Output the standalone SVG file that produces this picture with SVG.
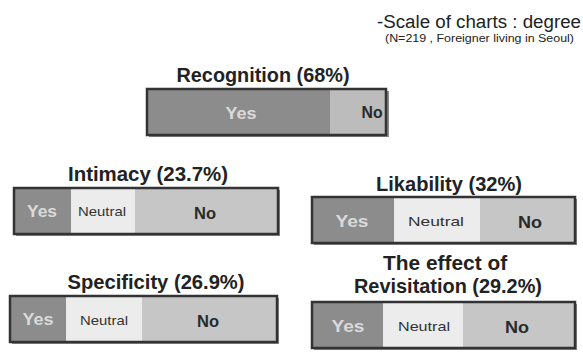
<svg xmlns="http://www.w3.org/2000/svg" width="583" height="354" viewBox="0 0 583 354">
  <style>
    .title { font-family: "Liberation Sans", Arial, sans-serif; font-weight: bold; font-size: 21px; fill: #222; text-anchor: middle; }
    .note { font-family: "Liberation Sans", Arial, sans-serif; fill: #222; text-anchor: end; }
    .yes { fill: #8c8c8c; }
    .neutral { fill: #ececec; }
    .no { fill: #c6c6c6; }
    .frame { fill: none; stroke: #333; stroke-width: 2.5; }
    .shadow { fill: #8a8a8a; }
    .lbl { font-family: "Liberation Sans", Arial, sans-serif; text-anchor: middle; }
    .lblYes { font-weight: bold; font-size: 17px; fill: #dadada; }
    .lblNeu { font-size: 13px; fill: #333; }
    .lblNo { font-weight: bold; font-size: 16px; fill: #2a2a2a; }
  </style>
  <rect width="583" height="354" fill="#ffffff"/>

  <!-- scale note -->
  <g id="scale-note">
    <text class="note" x="581" y="28" font-size="18" textLength="204" lengthAdjust="spacingAndGlyphs">-Scale of charts : degree</text>
    <text class="note" x="574" y="42" font-size="10" textLength="189" lengthAdjust="spacingAndGlyphs">(N=219 , Foreigner living in Seoul)</text>
  </g>

  <!-- Recognition -->
  <g id="recognition">
    <text class="title" x="263" y="82" textLength="173" lengthAdjust="spacingAndGlyphs">Recognition (68%)</text>
    <rect class="shadow" x="149" y="91" width="240" height="46"/>
    <rect class="yes" x="147" y="89" width="183" height="46"/>
    <rect x="330" y="89" width="56" height="46" fill="#bcbcbc"/>
    <rect class="frame" x="147" y="89" width="239" height="46"/>
    <text class="lbl lblYes" x="241" y="119" font-size="19" textLength="31" lengthAdjust="spacingAndGlyphs">Yes</text>
    <text class="lbl lblNo" x="372" y="118" textLength="21" lengthAdjust="spacingAndGlyphs">No</text>
  </g>

  <!-- Intimacy -->
  <g id="intimacy">
    <text class="title" x="148" y="181" textLength="160" lengthAdjust="spacingAndGlyphs">Intimacy (23.7%)</text>
    <rect class="shadow" x="16" y="190" width="264" height="46"/>
    <rect class="yes" x="14" y="188" width="57" height="46"/>
    <rect class="neutral" x="71" y="188" width="64" height="46"/>
    <rect class="no" x="135" y="188" width="143" height="46"/>
    <rect class="frame" x="14" y="188" width="264" height="46"/>
    <text class="lbl lblYes" x="42" y="217" textLength="30" lengthAdjust="spacingAndGlyphs">Yes</text>
    <text class="lbl lblNeu" x="102" y="216" textLength="48" lengthAdjust="spacingAndGlyphs">Neutral</text>
    <text class="lbl lblNo" x="205" y="219" textLength="22" lengthAdjust="spacingAndGlyphs">No</text>
  </g>

  <!-- Likability -->
  <g id="likability">
    <text class="title" x="449" y="191" textLength="146" lengthAdjust="spacingAndGlyphs">Likability (32%)</text>
    <rect class="shadow" x="314" y="199" width="263" height="46"/>
    <rect class="yes" x="312" y="197" width="82" height="46"/>
    <rect class="neutral" x="394" y="197" width="86" height="46"/>
    <rect class="no" x="480" y="197" width="95" height="46"/>
    <rect class="frame" x="312" y="197" width="263" height="46"/>
    <text class="lbl lblYes" x="352" y="227" font-size="19" textLength="33" lengthAdjust="spacingAndGlyphs">Yes</text>
    <text class="lbl lblNeu" x="436" y="226" font-size="15" textLength="56" lengthAdjust="spacingAndGlyphs">Neutral</text>
    <text class="lbl lblNo" x="530" y="228" font-size="17" textLength="24" lengthAdjust="spacingAndGlyphs">No</text>
  </g>

  <!-- Specificity -->
  <g id="specificity">
    <text class="title" x="156" y="289" textLength="177" lengthAdjust="spacingAndGlyphs">Specificity (26.9%)</text>
    <rect class="shadow" x="12" y="298" width="267" height="46"/>
    <rect class="yes" x="10" y="296" width="56" height="46"/>
    <rect class="neutral" x="66" y="296" width="76" height="46"/>
    <rect class="no" x="142" y="296" width="135" height="46"/>
    <rect class="frame" x="10" y="296" width="267" height="46"/>
    <text class="lbl lblYes" x="38" y="325" textLength="31" lengthAdjust="spacingAndGlyphs">Yes</text>
    <text class="lbl lblNeu" x="104" y="325" textLength="48" lengthAdjust="spacingAndGlyphs">Neutral</text>
    <text class="lbl lblNo" x="208" y="327" textLength="22" lengthAdjust="spacingAndGlyphs">No</text>
  </g>

  <!-- Revisitation: two-line title -->
  <g id="revisitation">
    <text class="title" font-size="20">
      <tspan x="448" y="270" textLength="124" lengthAdjust="spacingAndGlyphs">The effect of</tspan>
      <tspan x="448" y="293" textLength="188" lengthAdjust="spacingAndGlyphs">Revisitation (29.2%)</tspan>
    </text>
    <rect class="shadow" x="314" y="304" width="263" height="46"/>
    <rect class="yes" x="312" y="302" width="71" height="46"/>
    <rect class="neutral" x="383" y="302" width="80" height="46"/>
    <rect class="no" x="463" y="302" width="112" height="46"/>
    <rect class="frame" x="312" y="302" width="263" height="46"/>
    <text class="lbl lblYes" x="348" y="332" font-size="19" textLength="33" lengthAdjust="spacingAndGlyphs">Yes</text>
    <text class="lbl lblNeu" x="424" y="331" font-size="14" textLength="52" lengthAdjust="spacingAndGlyphs">Neutral</text>
    <text class="lbl lblNo" x="517" y="333" font-size="17" textLength="24" lengthAdjust="spacingAndGlyphs">No</text>
  </g>
</svg>
